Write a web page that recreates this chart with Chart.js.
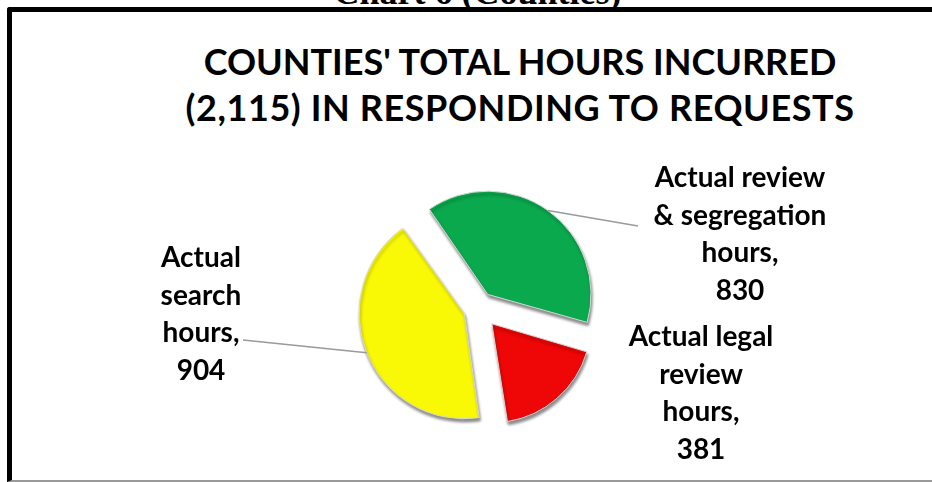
<!DOCTYPE html>
<html>
<head>
<meta charset="utf-8">
<script src="https://cdn.jsdelivr.net/npm/chart.js@4/dist/chart.umd.min.js"></script>
<style>
  body { margin: 0; width: 932px; height: 482px; overflow: hidden; background: #fff; position: relative; }
  #caption { position: absolute; left: 0; width: 955px; top: -26px; text-align: center;
             font: bold 36px "Liberation Serif", "DejaVu Serif", serif; line-height: 36px; color: #000; }
  #frame { position: absolute; left: 7px; top: 7px; width: 940px; height: 468px;
           border-left: 5px solid #000; border-top: 5px solid #000; border-bottom: 2px solid #999;
           border-top-left-radius: 3px; }
  #title { position: absolute; left: 0; width: 1040px; top: 38px; text-align: center;
           font: bold 36px Lato, "Open Sans", sans-serif; line-height: 46px; color: #000; }
  #title span { letter-spacing: 0.6px; }
  #wrap { position: absolute; left: 0; top: 0; width: 932px; height: 482px; }
</style>
</head>
<body>
<div id="caption">Chart 6 (Counties)</div>
<div id="frame"></div>
<div id="title">COUNTIES' TOTAL HOURS INCURRED<br><span>(2,115) IN RESPONDING TO REQUESTS</span></div>
<div id="wrap"><canvas id="pie"></canvas></div>
<script>
// slices, clockwise from the upper left
const categories = [
    ['Actual review', '& segregation', 'hours,'],
    ['Actual legal', 'review', 'hours,'],
    ['Actual', 'search', 'hours,']
];
const hours = [830, 381, 904];

const sliceColors = ['#0aa94e', '#ef0606', '#f9f905'];

// label placement, relative to the pie centre
const calloutSpots = [
    { dx: 262, dy: -130, leader: [160, -82] },
    { dx: 223, dy: 29, leader: null },
    { dx: -277, dy: -50, leader: [-235, 32] }
];

var countiesChart = {};

// how far each slice is pulled out, in pixels
countiesChart.explode = 23;

// chart.js shrinks arc offsets by slice size; undo that so every gap is equal
countiesChart.sliceOffsets = function (values) {
    const total = values.reduce(function (a, b) { return a + b; }, 0);
    return values.map(function (v) {
        const circ = v / total * Math.PI * 2;
        return 4 * countiesChart.explode / (2 - Math.sin(Math.min(Math.PI, circ)));
    });
};

countiesChart.shadowPlugin = {
    id: 'sliceShadow',
    beforeDatasetDraw: function (chart) {
        const ctx = chart.ctx;
        ctx.save();
        ctx.shadowColor = 'rgba(0, 0, 0, 0.45)';
        ctx.shadowBlur = 3;
        ctx.shadowOffsetX = 1;
        ctx.shadowOffsetY = 3;
    },
    afterDatasetDraw: function (chart) {
        chart.ctx.restore();
    }
};

countiesChart.calloutPlugin = {
    id: 'callouts',
    afterDatasetsDraw: function (chart) {
        const ctx = chart.ctx;
        const meta = chart.getDatasetMeta(0);
        const values = chart.data.datasets[0].data;
        ctx.save();
        meta.data.forEach(function (arc, i) {
            const p = arc.getProps(['x', 'y', 'startAngle', 'endAngle', 'outerRadius']);
            const mid = (p.startAngle + p.endAngle) / 2;
            const spot = calloutSpots[i];
            if (spot.leader) {
                const r = p.outerRadius + countiesChart.explode;
                ctx.beginPath();
                ctx.moveTo(p.x + Math.cos(mid) * r, p.y + Math.sin(mid) * r);
                ctx.lineTo(p.x + spot.leader[0], p.y + spot.leader[1]);
                ctx.strokeStyle = '#9a9a9a';
                ctx.lineWidth = 1.5;
                ctx.stroke();
            }
            const lines = chart.data.labels[i].concat([String(values[i])]);
            ctx.fillStyle = '#000';
            ctx.font = 'bold 28px Lato, "Open Sans", sans-serif';
            ctx.textAlign = 'center';
            ctx.textBaseline = 'middle';
            lines.forEach(function (t, k) {
                ctx.fillText(t, p.x + spot.dx, p.y + spot.dy + k * 37.5);
            });
        });
        ctx.restore();
    }
};

countiesChart.create = function () {
    const ctx = document.getElementById('pie');
    const config = {
        type: 'pie',
        data: {
            labels: categories,
            datasets: [{
                data: hours,
                backgroundColor: sliceColors,
                borderColor: '#d8d8d8',
                borderWidth: 1,
                offset: countiesChart.sliceOffsets(hours)
            }]
        },
        options: {
            responsive: true,
            maintainAspectRatio: false,
            animation: false,
            rotation: -35,
            radius: 97,
            layout: {
                padding: { left: 358, right: 334, top: 188, bottom: 54 }
            },
            plugins: {
                legend: { display: false },
                tooltip: { enabled: false },
                title: { display: false }
            }
        },
        plugins: [countiesChart.shadowPlugin, countiesChart.calloutPlugin]
    };
    countiesChart.chart = new Chart(ctx, config);
};

countiesChart.create();
</script>
</body>
</html>
